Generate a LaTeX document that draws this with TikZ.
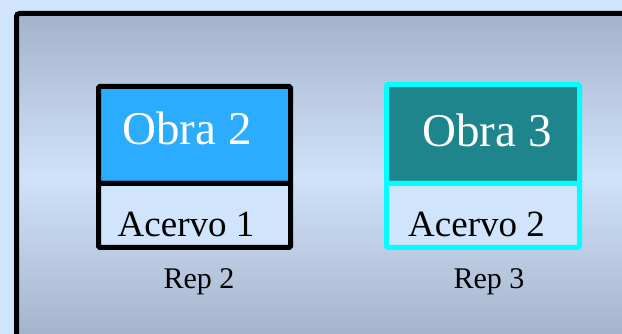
\documentclass[tikz,border=0pt]{standalone}
\usepackage{fontspec}
\setmainfont{Liberation Serif}
\definecolor{bgblue}{RGB}{208,228,252}
\definecolor{shadedark}{RGB}{163,179,202}
\definecolor{shadelight}{RGB}{208,226,250}
\definecolor{obrablue}{RGB}{43,172,254}
\definecolor{obrateal}{RGB}{31,133,141}
\definecolor{cyanline}{RGB}{0,255,255}
\tikzset{
  part/.style={draw, line width=5pt, inner sep=0pt, outer sep=0pt, anchor=north west},
  bigtxt/.style={font=\fontsize{47}{50}\selectfont, text=white, anchor=base, inner sep=0pt},
  midtxt/.style={font=\fontsize{37}{40}\selectfont, text=black, anchor=base, inner sep=0pt},
  smalltxt/.style={font=\fontsize{30}{34}\selectfont, text=black, anchor=base, inner sep=0pt}
}
\begin{document}
\begin{tikzpicture}[x=1pt,y=-1pt]
\useasboundingbox (0,0) rectangle (622,334);
\fill[bgblue] (0,0) rectangle (622,334);
\begin{scope}
\clip (0,0) rectangle (622,334);
\shade[top color=shadedark, bottom color=shadedark, middle color=shadelight]
  (16.5,13.5) rectangle (650,340);
\draw[line width=5pt, rounded corners=3pt] (16.5,345) -- (16.5,13.5) -- (650,13.5);
\end{scope}
% Rep 2
\node[part, fill=obrablue, minimum width=192pt, minimum height=97pt, rounded corners=1.5pt] (o2) at (98.5,86.5) {};
\node[part, fill=bgblue, minimum width=192pt, minimum height=64pt, rounded corners=1.5pt] (a1) at (98.5,183.5) {};
\node[bigtxt] (to2) at (187,145) {Obra 2};
\node[midtxt] (ta1) at (186,237) {Acervo 1};
\node[smalltxt] (r2) at (199,288) {Rep 2};
% Rep 3
\node[part, draw=cyanline, fill=obrateal, minimum width=193pt, minimum height=99pt, rounded corners=1.5pt] (o3) at (386.5,84.5) {};
\node[part, draw=cyanline, fill=bgblue, minimum width=193pt, minimum height=64pt, rounded corners=1.5pt] (a2) at (386.5,183.5) {};
\node[bigtxt] (to3) at (487,147) {Obra 3};
\node[midtxt] (ta2) at (476.5,237) {Acervo 2};
\node[smalltxt] (r3) at (489,288) {Rep 3};
\end{tikzpicture}
\end{document}
